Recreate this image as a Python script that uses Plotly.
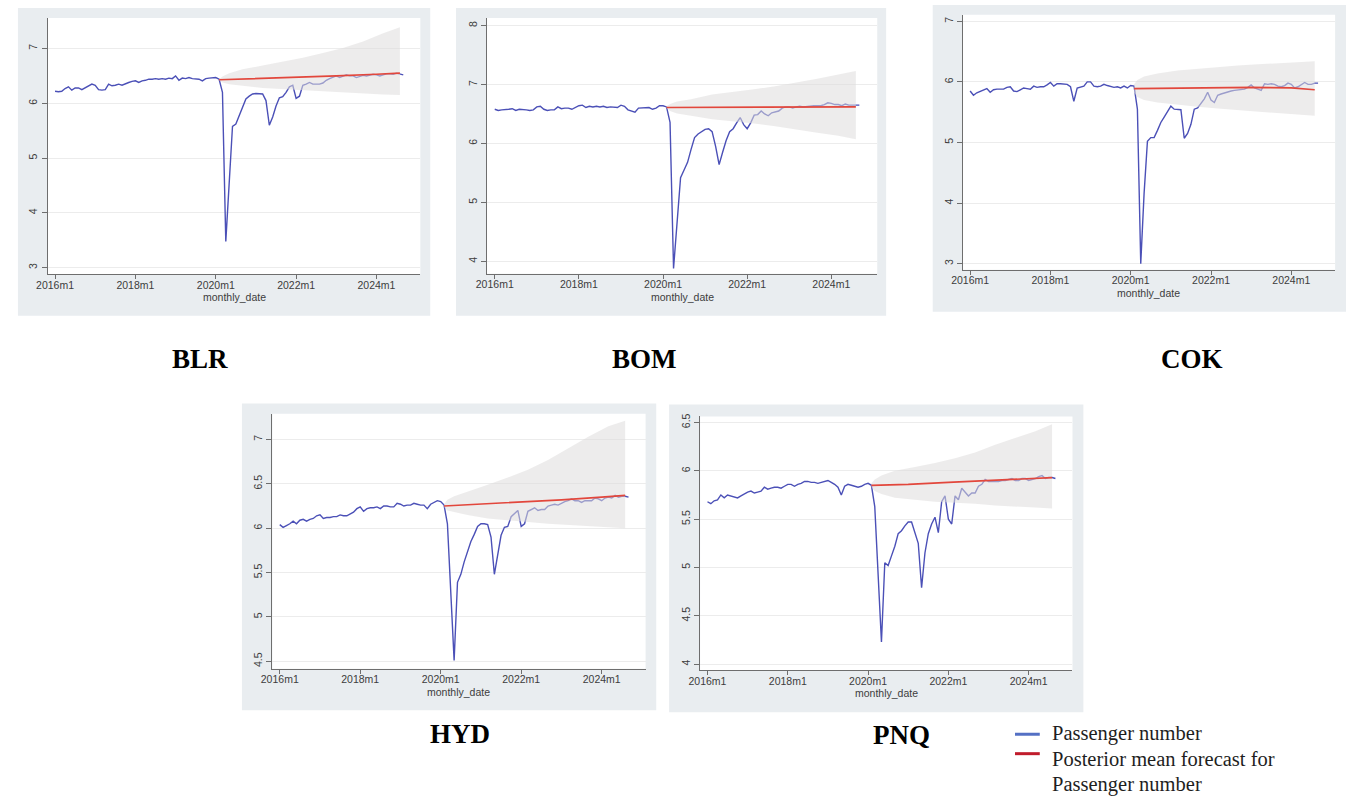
import plotly.graph_objects as go

# ---------------- data (log passenger numbers, monthly from 2016m1) ----------------
AIRPORTS = ["BLR", "BOM", "COK", "HYD", "PNQ"]

BLR = [6.22, 6.21, 6.22, 6.27, 6.30, 6.24, 6.28, 6.28, 6.25, 6.28,
       6.32, 6.35, 6.33, 6.25, 6.24, 6.25, 6.35, 6.32, 6.33, 6.35,
       6.33, 6.36, 6.38, 6.40, 6.41, 6.38, 6.41, 6.42, 6.44, 6.44,
       6.45, 6.44, 6.45, 6.44, 6.46, 6.45, 6.50, 6.42, 6.46, 6.45,
       6.47, 6.45, 6.45, 6.44, 6.41, 6.45, 6.46, 6.47, 6.47, 6.44,
       6.20, 3.48, 4.55, 5.58, 5.62, 5.78, 5.95, 6.08, 6.13, 6.17,
       6.18, 6.18, 6.17, 6.05, 5.60, 5.75, 5.95, 6.10, 6.12, 6.20,
       6.30, 6.33, 6.09, 6.13, 6.33, 6.35, 6.38, 6.35, 6.35, 6.35,
       6.37, 6.42, 6.45, 6.48, 6.50, 6.47, 6.50, 6.52, 6.50, 6.50,
       6.47, 6.49, 6.51, 6.50, 6.52, 6.53, 6.52, 6.50, 6.52, 6.54,
       6.54, 6.53, 6.55, 6.54, 6.52]

BOM = [6.58, 6.56, 6.57, 6.57, 6.58, 6.59, 6.56, 6.58, 6.58, 6.57,
       6.56, 6.57, 6.62, 6.63, 6.58, 6.56, 6.57, 6.57, 6.62, 6.59,
       6.60, 6.60, 6.58, 6.61, 6.64, 6.65, 6.61, 6.63, 6.62, 6.63,
       6.62, 6.63, 6.61, 6.62, 6.62, 6.61, 6.65, 6.63, 6.57, 6.55,
       6.53, 6.60, 6.60, 6.60, 6.61, 6.58, 6.60, 6.64, 6.64, 6.62,
       6.36, 3.88, 4.65, 5.42, 5.55, 5.68, 5.90, 6.10, 6.16, 6.20,
       6.24, 6.25, 6.20, 5.95, 5.64, 5.85, 6.05, 6.20, 6.25, 6.35,
       6.44, 6.32, 6.25, 6.35, 6.48, 6.49, 6.55, 6.50, 6.47, 6.52,
       6.53, 6.55, 6.60, 6.62, 6.62, 6.60, 6.62, 6.63, 6.62, 6.63,
       6.63, 6.64, 6.64, 6.64, 6.66, 6.69, 6.68, 6.66, 6.66, 6.64,
       6.67, 6.65, 6.65, 6.65, 6.65]

COK = [5.85, 5.78, 5.82, 5.84, 5.86, 5.89, 5.83, 5.87, 5.88, 5.88,
       5.88, 5.91, 5.92, 5.85, 5.84, 5.87, 5.90, 5.89, 5.88, 5.93,
       5.91, 5.92, 5.92, 5.95, 5.99, 5.93, 5.97, 5.97, 5.97, 5.96,
       5.92, 5.68, 5.90, 5.91, 5.93, 6.00, 6.00, 5.93, 5.92, 5.93,
       5.96, 5.94, 5.93, 5.91, 5.92, 5.90, 5.93, 5.90, 5.94, 5.93,
       5.55, 3.00, 4.16, 5.02, 5.08, 5.08, 5.20, 5.33, 5.42, 5.50,
       5.60, 5.55, 5.55, 5.54, 5.07, 5.15, 5.30, 5.55, 5.57, 5.65,
       5.72, 5.83, 5.70, 5.66, 5.78, 5.80, 5.82, 5.83, 5.85, 5.86,
       5.87, 5.88, 5.88, 5.91, 5.95, 5.90, 5.88, 5.86, 5.97, 5.96,
       5.97, 5.96, 5.93, 5.92, 5.94, 5.98, 5.96, 5.90, 5.92, 5.95,
       5.99, 5.96, 5.96, 5.98, 5.98]

HYD = [6.04, 6.01, 6.03, 6.05, 6.08, 6.05, 6.09, 6.10, 6.08, 6.10,
       6.11, 6.14, 6.15, 6.11, 6.12, 6.12, 6.13, 6.13, 6.15, 6.14,
       6.14, 6.16, 6.18, 6.22, 6.24, 6.19, 6.22, 6.23, 6.23, 6.24,
       6.22, 6.25, 6.25, 6.24, 6.24, 6.28, 6.27, 6.25, 6.26, 6.26,
       6.28, 6.27, 6.26, 6.26, 6.22, 6.27, 6.29, 6.31, 6.30, 6.26,
       6.05, 5.24, 4.51, 5.39, 5.48, 5.62, 5.75, 5.85, 5.93, 6.02,
       6.05, 6.05, 6.04, 5.90, 5.48, 5.70, 5.92, 6.01, 6.02, 6.13,
       6.16, 6.20, 6.02, 6.05, 6.19, 6.21, 6.23, 6.20, 6.21, 6.21,
       6.25, 6.26, 6.27, 6.26, 6.28, 6.30, 6.31, 6.33, 6.31, 6.31,
       6.29, 6.31, 6.31, 6.31, 6.34, 6.33, 6.31, 6.34, 6.35, 6.34,
       6.37, 6.35, 6.36, 6.36, 6.35]

PNQ = [5.68, 5.66, 5.69, 5.70, 5.75, 5.72, 5.75, 5.74, 5.73, 5.72,
       5.74, 5.76, 5.78, 5.79, 5.77, 5.78, 5.79, 5.83, 5.81, 5.82,
       5.83, 5.83, 5.82, 5.84, 5.86, 5.86, 5.84, 5.86, 5.87, 5.89,
       5.89, 5.88, 5.88, 5.87, 5.88, 5.89, 5.90, 5.88, 5.86, 5.83,
       5.75, 5.84, 5.86, 5.85, 5.84, 5.83, 5.84, 5.86, 5.87, 5.85,
       5.63, 4.89, 4.23, 5.05, 5.02, 5.12, 5.22, 5.35, 5.38, 5.43,
       5.47, 5.47, 5.37, 5.25, 4.79, 5.15, 5.35, 5.45, 5.52, 5.36,
       5.68, 5.74, 5.50, 5.45, 5.74, 5.70, 5.82, 5.78, 5.74, 5.77,
       5.77, 5.84, 5.86, 5.91, 5.89, 5.89, 5.89, 5.89, 5.90, 5.90,
       5.91, 5.92, 5.90, 5.90, 5.92, 5.92, 5.90, 5.91, 5.92, 5.94,
       5.95, 5.92, 5.93, 5.93, 5.92]

# posterior mean forecast (month index from 2016m1)
FC_MONTHS = [49, 60, 72, 84, 96, 103]
FC_BLR = [6.43, 6.45, 6.47, 6.50, 6.53, 6.55]
FC_BOM = [6.61, 6.61, 6.61, 6.61, 6.62, 6.62]
FC_COK = [5.89, 5.90, 5.91, 5.91, 5.90, 5.87]
FC_HYD = [6.25, 6.27, 6.30, 6.32, 6.35, 6.37]
FC_PNQ = [5.85, 5.86, 5.88, 5.90, 5.92, 5.93]

# credible band
BAND_MONTHS = [49, 50, 52, 56, 62, 68, 74, 80, 86, 92, 98, 103]
UP_BLR = [6.44, 6.49, 6.55, 6.62, 6.69, 6.76, 6.83, 6.92, 7.01, 7.13, 7.28, 7.39]
LO_BLR = [6.42, 6.38, 6.35, 6.32, 6.28, 6.26, 6.23, 6.21, 6.19, 6.18, 6.16, 6.15]
UP_BOM = [6.63, 6.67, 6.71, 6.75, 6.83, 6.87, 6.92, 6.97, 7.03, 7.10, 7.17, 7.23]
LO_BOM = [6.60, 6.55, 6.51, 6.47, 6.41, 6.38, 6.34, 6.29, 6.24, 6.18, 6.13, 6.07]
UP_COK = [5.96, 6.03, 6.09, 6.14, 6.19, 6.22, 6.25, 6.27, 6.29, 6.31, 6.33, 6.34]
LO_COK = [5.82, 5.75, 5.70, 5.66, 5.62, 5.59, 5.56, 5.53, 5.51, 5.48, 5.46, 5.44]
UP_HYD = [6.27, 6.32, 6.36, 6.41, 6.49, 6.57, 6.66, 6.77, 6.90, 7.03, 7.15, 7.21]
LO_HYD = [6.24, 6.20, 6.18, 6.15, 6.11, 6.09, 6.07, 6.05, 6.03, 6.02, 6.01, 6.00]
UP_PNQ = [5.87, 5.91, 5.95, 6.00, 6.04, 6.08, 6.13, 6.19, 6.27, 6.34, 6.41, 6.48]
LO_PNQ = [5.83, 5.79, 5.76, 5.72, 5.70, 5.68, 5.67, 5.66, 5.64, 5.63, 5.62, 5.61]

TICK_POS = [0, 24, 48, 72, 96]
TICK_LABELS = ["2016m1", "2018m1", "2020m1", "2022m1", "2024m1"]
X_TITLE = "monthly_date"
LEGEND_LABELS = ["Passenger number", "Posterior mean forecast for", "Passenger number"]

SERIES = {"BLR": BLR, "BOM": BOM, "COK": COK, "HYD": HYD, "PNQ": PNQ}
FC = {"BLR": FC_BLR, "BOM": FC_BOM, "COK": FC_COK, "HYD": FC_HYD, "PNQ": FC_PNQ}
UP = {"BLR": UP_BLR, "BOM": UP_BOM, "COK": UP_COK, "HYD": UP_HYD, "PNQ": UP_PNQ}
LO = {"BLR": LO_BLR, "BOM": LO_BOM, "COK": LO_COK, "HYD": LO_HYD, "PNQ": LO_PNQ}

# ---------------- layout (pixel geometry) ----------------
W, H = 1349, 799
PANELS = {
    "BLR": dict(frame=(6, 5, 422, 314), plot=(36, 15, 412, 272), yr=(2.885, 7.558), dtick=1, title=(189.5, 357.5)),
    "BOM": dict(frame=(448, 5, 882, 314), plot=(479.3, 15, 873, 271.7), yr=(3.79, 8.13), dtick=1, title=(638, 357.5)),
    "COK": dict(frame=(929, 2, 1346, 310), plot=(959.3, 11.7, 1335, 267.7), yr=(2.90, 7.11), dtick=1, title=(1191, 357.5)),
    "HYD": dict(frame=(232, 402, 650, 710), plot=(262.7, 412.3, 639.3, 668.3), yr=(4.415, 7.29), dtick=0.5, title=(452.5, 734)),
    "PNQ": dict(frame=(663, 403, 1081, 712), plot=(694.3, 415, 1070, 670), yr=(3.935, 6.562), dtick=0.5, title=(897, 734.5)),
}

BLUE = "#4b50b7"
RED = "#e2473c"
BAND = "rgba(222,220,220,0.55)"
FRAME_BG = "#e9edf0"
AXIS_COL = "#6e6e6e"
TICK_FONT = dict(family="Liberation Sans, Arial, sans-serif", size=10.5, color="#3c3c3c")


def px_x(v):
    return v / W


def px_y(v):
    return 1 - v / H


fig = go.Figure()
shapes = []
annotations = []
layout = {}

for i, name in enumerate(AIRPORTS, start=1):
    p = PANELS[name]
    xs = "" if i == 1 else str(i)
    xa, ya = "x" + xs, "y" + xs
    months = list(range(len(SERIES[name])))

    fig.add_trace(go.Scatter(x=months, y=SERIES[name], mode="lines",
                             line=dict(color=BLUE, width=1.4), xaxis=xa, yaxis=ya,
                             hoverinfo="skip", showlegend=False))
    fig.add_trace(go.Scatter(x=BAND_MONTHS + BAND_MONTHS[::-1],
                             y=UP[name] + LO[name][::-1], mode="lines",
                             fill="toself", fillcolor=BAND, line=dict(width=0, color="rgba(0,0,0,0)"),
                             xaxis=xa, yaxis=ya, hoverinfo="skip", showlegend=False))
    fig.add_trace(go.Scatter(x=FC_MONTHS, y=FC[name], mode="lines",
                             line=dict(color=RED, width=1.7), xaxis=xa, yaxis=ya,
                             hoverinfo="skip", showlegend=False))

    l, t, r, b = p["plot"]
    layout["xaxis" + xs] = dict(
        domain=[px_x(l), px_x(r)], anchor=ya, range=[-2.2, 109.1],
        tickmode="array", tickvals=TICK_POS, ticktext=TICK_LABELS,
        showgrid=False, zeroline=False, showline=True, linecolor=AXIS_COL, linewidth=1,
        ticks="outside", ticklen=4, tickcolor=AXIS_COL, tickfont=TICK_FONT,
        ticklabelstandoff=-3, fixedrange=True)
    layout["yaxis" + xs] = dict(
        domain=[px_y(b), px_y(t)], anchor=xa, range=list(p["yr"]),
        tick0=0, dtick=p["dtick"], tickangle=-90,
        showgrid=True, gridcolor="#ececec", gridwidth=1, zeroline=False,
        showline=True, linecolor=AXIS_COL, linewidth=1,
        ticks="outside", ticklen=5, tickcolor=AXIS_COL, tickfont=TICK_FONT, fixedrange=True)

    fl, ft, fr, fb = p["frame"]
    shapes.append(dict(type="rect", xref="paper", yref="paper", layer="below",
                       x0=px_x(fl), x1=px_x(fr), y0=px_y(fb), y1=px_y(ft),
                       fillcolor=FRAME_BG, line=dict(width=0)))
    shapes.append(dict(type="rect", xref="paper", yref="paper", layer="below",
                       x0=px_x(l), x1=px_x(r), y0=px_y(b), y1=px_y(t),
                       fillcolor="white", line=dict(width=0)))

    annotations.append(dict(text=X_TITLE, xref="paper", yref="paper",
                            x=px_x((l + r) / 2), y=px_y(b + 23), showarrow=False,
                            xanchor="center", yanchor="middle", font=TICK_FONT))
    tx, ty = p["title"]
    annotations.append(dict(text="<b>%s</b>" % name, xref="paper", yref="paper",
                            x=px_x(tx), y=px_y(ty), showarrow=False,
                            xanchor="center", yanchor="middle",
                            font=dict(family="Liberation Serif, Times New Roman, serif", size=27, color="#000000")))

# legend (drawn manually)
LEG_FONT = dict(family="Liberation Serif, Times New Roman, serif", size=20.5, color="#1e1e1e")
shapes.append(dict(type="line", xref="paper", yref="paper", x0=px_x(1012), x1=px_x(1037),
                   y0=px_y(734), y1=px_y(734), line=dict(color="#5470c4", width=3)))
shapes.append(dict(type="line", xref="paper", yref="paper", x0=px_x(1012), x1=px_x(1037),
                   y0=px_y(753.5), y1=px_y(753.5), line=dict(color="#c01c2c", width=3)))
for lab, yy in zip(LEGEND_LABELS, [733.5, 758.5, 784]):
    annotations.append(dict(text=lab, xref="paper", yref="paper", x=px_x(1047), y=px_y(yy),
                            showarrow=False, xanchor="left", yanchor="middle", font=LEG_FONT))

fig.update_layout(width=W, height=H, margin=dict(l=0, r=0, t=0, b=0),
                  paper_bgcolor="white", plot_bgcolor="white", showlegend=False,
                  shapes=shapes, annotations=annotations, **layout)

fig.write_html("out.html", config={"displayModeBar": False},
               post_script="document.body.style.margin='0';document.body.style.overflow='hidden';")
